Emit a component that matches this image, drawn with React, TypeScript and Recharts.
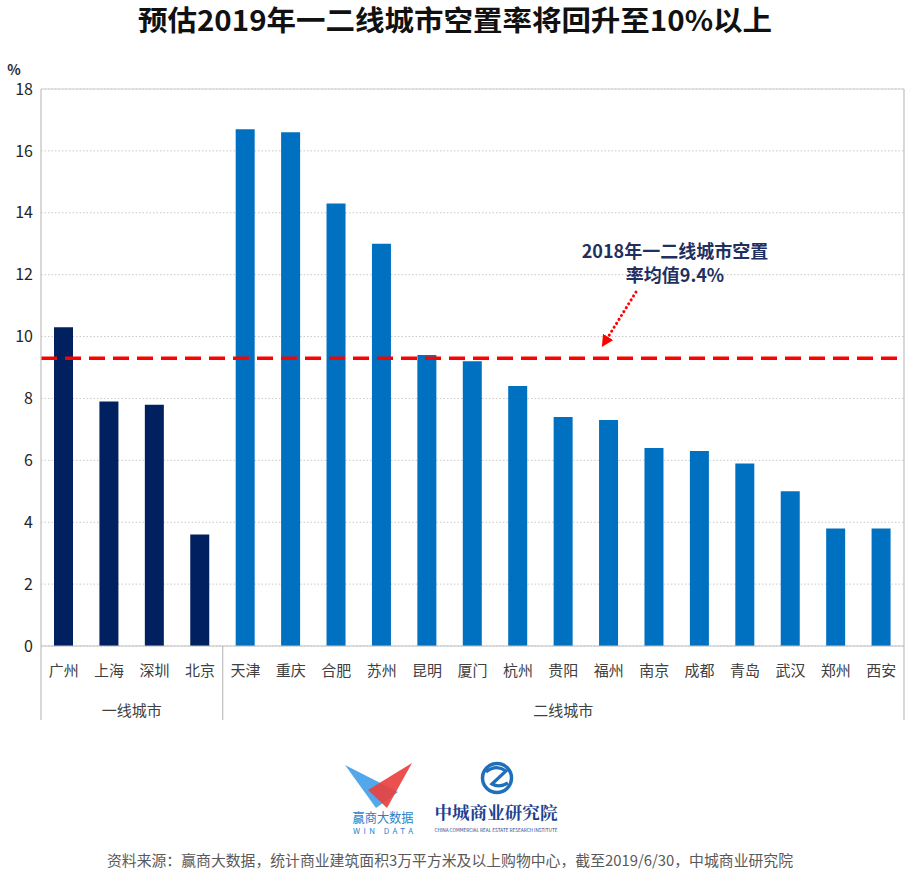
import React from "react";
import {
  BarChart,
  Bar,
  Cell,
  XAxis,
  YAxis,
  CartesianGrid,
  ReferenceLine,
} from "recharts";

// city order as on the chart
const cities = [
  "广州", "上海", "深圳", "北京",
  "天津", "重庆", "合肥", "苏州", "昆明", "厦门", "杭州", "贵阳",
  "福州", "南京", "成都", "青岛", "武汉", "郑州", "西安",
];
const tiers = [
  "一线城市", "一线城市", "一线城市", "一线城市",
  "二线城市", "二线城市", "二线城市", "二线城市", "二线城市", "二线城市",
  "二线城市", "二线城市", "二线城市", "二线城市", "二线城市", "二线城市",
  "二线城市", "二线城市", "二线城市",
];
// vacancy rate, %
const vacancy = [
  10.3, 7.9, 7.8, 3.6,
  16.7, 16.6, 14.3, 13.0, 9.4, 9.2, 8.4, 7.4, 7.3, 6.4, 6.3, 5.9, 5.0, 3.8, 3.8,
];
const yTicks = [0, 2, 4, 6, 8, 10, 12, 14, 16, 18];
const groupNames = ["一线城市", "二线城市"];
const avgLine = 9.3; // where the dashed red line sits
const avgLabel = ["2018年一二线城市空置", "率均值9.4%"];
const title = "预估2019年一二线城市空置率将回升至10%以上";
const source =
  "资料来源：赢商大数据，统计商业建筑面积3万平方米及以上购物中心，截至2019/6/30，中城商业研究院";

const tierColor: Record<string, string> = {
  一线城市: "#002060",
  二线城市: "#0070C0",
};

const FONT = '"Noto Sans CJK SC", "Noto Sans", sans-serif';
const AXIS_GRAY = "#bfbfbf";

const data = cities.map((c, i) => ({ city: c, tier: tiers[i], value: vacancy[i] }));

// group spans (first/last index) derived from tiers
const groups = groupNames.map((g) => {
  const first = tiers.indexOf(g);
  const last = tiers.lastIndexOf(g);
  return { name: g, first, last };
});

const CityTick = (props: any) => {
  const { x, y, payload, width, visibleTicksCount } = props;
  const index = props.index ?? payload?.index ?? 0;
  const n = visibleTicksCount || cities.length;
  const band = width ? width / n : 45.4;
  const half = band / 2;
  const parts: React.ReactNode[] = [];

  parts.push(
    <text
      key="c"
      x={x}
      y={y + 30}
      textAnchor="middle"
      fontSize={15}
      fill="#404040"
      fontFamily={FONT}
    >
      {payload.value}
    </text>
  );

  groups.forEach((g) => {
    if (index === g.first) {
      parts.push(
        <line key={"s" + g.name} x1={x - half} x2={x - half} y1={y} y2={y + 74} stroke={AXIS_GRAY} strokeWidth={1.2} />
      );
    }
    if (index === g.last && index === cities.length - 1) {
      parts.push(
        <line key={"e" + g.name} x1={x + half} x2={x + half} y1={y} y2={y + 74} stroke={AXIS_GRAY} strokeWidth={1.2} />
      );
    }
    const mid = (g.first + g.last) / 2;
    if (index === Math.floor(mid)) {
      const gx = Number.isInteger(mid) ? x : x + half;
      parts.push(
        <text key={"g" + g.name} x={gx} y={y + 70} textAnchor="middle" fontSize={15} fill="#404040" fontFamily={FONT}>
          {g.name}
        </text>
      );
    }
  });

  return <g>{parts}</g>;
};

const Overlay = () => (
  <svg
    width={908}
    height={870}
    style={{ position: "absolute", left: 0, top: 0, pointerEvents: "none" }}
  >
    <defs>
      <marker id="arrowRed" viewBox="0 0 10 10" refX="5" refY="5" markerWidth="4" markerHeight="4" orient="auto">
        <path d="M0,0 L10,5 L0,10 z" fill="#ff0000" />
      </marker>
    </defs>
    <text
      x={455}
      y={31}
      textAnchor="middle"
      fontSize={28}
      fontWeight={700}
      fill="#111"
      fontFamily={FONT}
      textLength={634}
      lengthAdjust="spacingAndGlyphs"
    >
      {title}
    </text>
    <text x={14} y={75} textAnchor="middle" fontSize={14} fontWeight={700} fill="#1f2a44" fontFamily={FONT}>
      %
    </text>

    {/* average annotation */}
    <text x={675} y={258} textAnchor="middle" fontSize={18} fontWeight={700} fill="#1f3060" fontFamily={FONT}>
      {avgLabel[0]}
    </text>
    <text x={675} y={282} textAnchor="middle" fontSize={18} fontWeight={700} fill="#1f3060" fontFamily={FONT}>
      {avgLabel[1]}
    </text>
    <line
      x1={636}
      y1={292}
      x2={605}
      y2={342}
      stroke="#ff0000"
      strokeWidth={3}
      strokeDasharray="0.1 4.5"
      strokeLinecap="round"
      markerEnd="url(#arrowRed)"
    />

    {/* WIN DATA logo */}
    <polygon points="345,765 398,792 376,808" fill="#4aa3ea" opacity={0.95} />
    <polygon points="412,763 368,790 387,808" fill="#e8423f" opacity={0.92} />
    <text x={383} y={822} textAnchor="middle" fontSize={13} fill="#2d7fc8" fontFamily={FONT} textLength={61} lengthAdjust="spacingAndGlyphs">
      赢商大数据
    </text>
    <text x={383} y={834} textAnchor="middle" fontSize={8} fill="#2d7fc8" fontFamily={FONT} textLength={60} lengthAdjust="spacing">
      WIN DATA
    </text>

    {/* 中城 logo */}
    <circle cx={497} cy={778} r={14.5} fill="none" stroke="#1f6fba" strokeWidth={3.5} />
    <path d="M486,772 Q496,764 506,771 L492,784 Q499,788 508,783" fill="none" stroke="#1f6fba" strokeWidth={3.2} />
    <text
      x={496}
      y={819}
      textAnchor="middle"
      fontSize={17}
      fontWeight={700}
      fill="#1c3f8f"
      fontFamily='"Noto Serif CJK SC", "Noto Sans CJK SC", serif'
      textLength={123}
      lengthAdjust="spacingAndGlyphs"
    >
      中城商业研究院
    </text>
    <text x={496} y={832} textAnchor="middle" fontSize={4.8} fill="#1c3f8f" fontFamily={FONT} textLength={123} lengthAdjust="spacingAndGlyphs">
      CHINA COMMERCIAL REAL ESTATE RESEARCH INSTITUTE
    </text>

    <text
      x={450}
      y={866}
      textAnchor="middle"
      fontSize={14.8}
      fill="#595959"
      fontFamily={FONT}
      textLength={686}
      lengthAdjust="spacingAndGlyphs"
    >
      {source}
    </text>
  </svg>
);

export default function App() {
  return (
    <div
      style={{
        position: "absolute",
        left: 0,
        top: 0,
        width: 908,
        height: 870,
        background: "#fff",
        fontFamily: FONT,
      }}
    >
      <BarChart
        width={908}
        height={870}
        data={data}
        margin={{ top: 89, right: 4, bottom: 144, left: 11 }}
      >
        <CartesianGrid vertical={false} stroke="#c9c9c9" strokeDasharray="1.5 2" />
        <YAxis
          width={30}
          domain={[0, 18]}
          ticks={yTicks}
          interval={0}
          tickLine={false}
          axisLine={{ stroke: AXIS_GRAY, strokeWidth: 1.2 }}
          tick={{ fill: "#262626", fontSize: 16, fontFamily: FONT }}
        />
        <XAxis
          dataKey="city"
          interval={0}
          height={80}
          tickLine={false}
          tickSize={0}
          tickMargin={0}
          axisLine={{ stroke: AXIS_GRAY, strokeWidth: 1.2 }}
          tick={<CityTick />}
        />
        <ReferenceLine y={18} stroke="#d0d0d0" strokeWidth={1.2} />
        <ReferenceLine x="西安" position="end" stroke={AXIS_GRAY} strokeWidth={1.2} />
        <Bar dataKey="value" barSize={19} isAnimationActive={false}>
          {data.map((d) => (
            <Cell key={d.city} fill={tierColor[d.tier]} />
          ))}
        </Bar>
        <ReferenceLine y={avgLine} stroke="#ff0000" strokeWidth={3.5} strokeDasharray="16 8" />
      </BarChart>
      <Overlay />
    </div>
  );
}
